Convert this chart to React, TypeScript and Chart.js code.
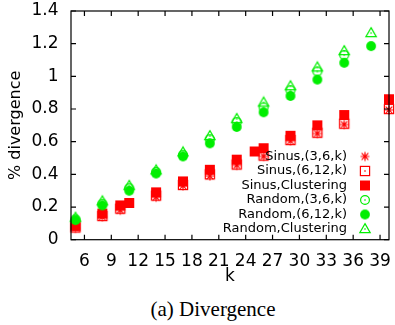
import React, { useEffect, useRef } from 'react';
import { Chart, registerables } from 'chart.js';

Chart.register(...registerables);

// ---- data ----
const sinusK = [5, 8, 10, 14, 17, 20, 23, 26, 29, 32, 35, 40];
const sinus36 = [0.07, 0.14, 0.18, 0.26, 0.33, 0.39, 0.455, 0.51, 0.605, 0.65, 0.705, 0.795];
const sinus612 = [0.075, 0.145, 0.19, 0.27, 0.335, 0.4, 0.46, 0.515, 0.61, 0.655, 0.71, 0.8];
const sinusClusterK = [5, 8, 10, 11, 14, 17, 20, 23, 25, 26, 29, 32, 35, 40];
const sinusCluster = [0.085, 0.16, 0.21, 0.225, 0.29, 0.357, 0.428, 0.49, 0.54, 0.56, 0.636, 0.7, 0.763, 0.86];
const randomK = [5, 8, 11, 14, 17, 20, 23, 26, 29, 32, 35, 38];
const random36K = [5, 8, 11, 14, 17, 20, 23, 26, 29, 32, 35];
const random36 = [0.125, 0.22, 0.315, 0.415, 0.52, 0.615, 0.72, 0.81, 0.915, 1.03, 1.13];
const random612 = [0.12, 0.21, 0.3, 0.405, 0.51, 0.59, 0.69, 0.78, 0.88, 0.98, 1.083, 1.185];
const randomCluster = [0.135, 0.235, 0.33, 0.425, 0.535, 0.635, 0.74, 0.84, 0.94, 1.055, 1.155, 1.265];

const xTicks = [6, 9, 12, 15, 18, 21, 24, 27, 30, 33, 36, 39];
const yTicks = [0, 0.2, 0.4, 0.6, 0.8, 1, 1.2, 1.4];
const yTickLabels = ['0', '0.2', '0.4', '0.6', '0.8', '1', '1.2', '1.4'];
const seriesLabels = [
  'Sinus,(3,6,k)',
  'Sinus,(6,12,k)',
  'Sinus,Clustering',
  'Random,(3,6,k)',
  'Random,(6,12,k)',
  'Random,Clustering',
];
const xTitle = 'k';
const yTitle = '% divergence';
const caption = '(a) Divergence';

const RED = '#ff0000';
const GREEN = '#00ee00';
const FONT = '"DejaVu Sans", Verdana, sans-serif';

type Kind = 'star' | 'openSquare' | 'filledSquare' | 'openCircle' | 'filledCircle' | 'openTriangle';

function makeMarker(kind: Kind, color: string): HTMLCanvasElement {
  const s = 14;
  const c = document.createElement('canvas');
  c.width = s;
  c.height = s;
  const ctx = c.getContext('2d')!;
  ctx.translate(s / 2, s / 2);
  ctx.strokeStyle = color;
  ctx.fillStyle = color;
  ctx.lineWidth = 1.2;
  const dot = () => ctx.fillRect(-0.7, -0.7, 1.4, 1.4);
  switch (kind) {
    case 'star': {
      ctx.beginPath();
      ctx.moveTo(-4.5, 0); ctx.lineTo(4.5, 0);
      ctx.moveTo(0, -4.5); ctx.lineTo(0, 4.5);
      ctx.moveTo(-3.4, -3.4); ctx.lineTo(3.4, 3.4);
      ctx.moveTo(-3.4, 3.4); ctx.lineTo(3.4, -3.4);
      ctx.stroke();
      break;
    }
    case 'openSquare':
      ctx.strokeRect(-4.6, -4.6, 9.2, 9.2);
      dot();
      break;
    case 'filledSquare':
      ctx.fillRect(-5, -5, 10, 10);
      break;
    case 'openCircle':
      ctx.beginPath();
      ctx.arc(0, 0, 4.4, 0, Math.PI * 2);
      ctx.stroke();
      dot();
      break;
    case 'filledCircle':
      ctx.beginPath();
      ctx.arc(0, 0, 4.9, 0, Math.PI * 2);
      ctx.fill();
      break;
    case 'openTriangle':
      ctx.beginPath();
      ctx.moveTo(0, -5.4);
      ctx.lineTo(5.2, 3.7);
      ctx.lineTo(-5.2, 3.7);
      ctx.closePath();
      ctx.stroke();
      dot();
      break;
  }
  return c;
}

function pts(xs: number[], ys: number[]) {
  return xs.map((x, i) => ({ x, y: ys[i] }));
}

export default function App() {
  const ref = useRef<HTMLCanvasElement>(null);

  useEffect(() => {
    if (!ref.current) return;
    const markers = [
      makeMarker('star', RED),
      makeMarker('openSquare', RED),
      makeMarker('filledSquare', RED),
      makeMarker('openCircle', GREEN),
      makeMarker('filledCircle', GREEN),
      makeMarker('openTriangle', GREEN),
    ];
    const seriesData = [
      pts(sinusK, sinus36),
      pts(sinusK, sinus612),
      pts(sinusClusterK, sinusCluster),
      pts(random36K, random36),
      pts(randomK, random612),
      pts(randomK, randomCluster),
    ];

    const framePlugin = {
      id: 'frameTicks',
      afterDatasetsDraw(chart: any) {
        const { ctx, chartArea: a, scales } = chart;
        ctx.save();
        ctx.strokeStyle = '#000';
        ctx.lineWidth = 1.2;
        ctx.strokeRect(a.left, a.top, a.right - a.left, a.bottom - a.top);
        ctx.beginPath();
        xTicks.forEach((v) => {
          const px = scales.x.getPixelForValue(v);
          ctx.moveTo(px, a.bottom);
          ctx.lineTo(px, a.bottom - 5);
          ctx.moveTo(px, a.top);
          ctx.lineTo(px, a.top + 5);
        });
        yTicks.forEach((v) => {
          const py = scales.y.getPixelForValue(v);
          ctx.moveTo(a.left, py);
          ctx.lineTo(a.left + 5, py);
          ctx.moveTo(a.right, py);
          ctx.lineTo(a.right - 5, py);
        });
        ctx.stroke();

        // key
        ctx.font = '13px ' + FONT;
        ctx.textAlign = 'right';
        ctx.textBaseline = 'middle';
        ctx.fillStyle = '#000';
        const n = seriesLabels.length;
        seriesLabels.forEach((label, i) => {
          const y = a.bottom - 10.7 - (n - 1 - i) * 14.5;
          ctx.fillText(label, a.right - 42, y);
          const img = markers[i];
          ctx.drawImage(img, a.right - 24 - img.width / 2, y - img.height / 2);
        });
        ctx.restore();
      },
    };

    const tickFont = { family: FONT, size: 17 };
    const titleFont = { family: FONT, size: 16 };

    const chart = new Chart(ref.current, {
      type: 'scatter',
      data: {
        datasets: seriesLabels.map((label, i) => ({
          label,
          data: seriesData[i],
          pointStyle: markers[i] as any,
          pointRadius: 5,
          showLine: false,
          clip: false as any,
          order: seriesLabels.length - i,
          borderColor: i < 3 ? RED : GREEN,
          backgroundColor: i < 3 ? RED : GREEN,
        })),
      },
      plugins: [framePlugin],
      options: {
        animation: false,
        responsive: false,
        layout: { padding: { left: 0, right: 1, top: 11, bottom: 0 } },
        plugins: {
          legend: { display: false },
          tooltip: { enabled: false },
        },
        scales: {
          x: {
            type: 'linear',
            min: 4.5,
            max: 40,
            afterBuildTicks: (s: any) => {
              s.ticks = xTicks.map((v) => ({ value: v }));
            },
            afterFit: (s: any) => {
              s.height = 50.3;
              s.paddingLeft = 0;
              s.paddingRight = 0;
            },
            ticks: { font: tickFont, color: '#000', padding: 12, maxRotation: 0, autoSkip: false },
            grid: { display: false, drawTicks: false },
            border: { display: false },
            title: {
              display: true,
              text: xTitle,
              font: tickFont,
              color: '#000',
              padding: { top: 0, bottom: 3 },
            },
          },
          y: {
            type: 'linear',
            min: 0,
            max: 1.4,
            afterBuildTicks: (s: any) => {
              s.ticks = yTicks.map((v) => ({ value: v }));
            },
            afterFit: (s: any) => {
              s.width = 71;
              s.paddingTop = 0;
              s.paddingBottom = 0;
            },
            ticks: {
              font: tickFont,
              color: '#000',
              padding: 12.5,
              autoSkip: false,
              callback: (_v: any, i: number) => yTickLabels[i],
            },
            grid: { display: false, drawTicks: false },
            border: { display: false },
            title: {
              display: true,
              text: yTitle,
              font: titleFont,
              color: '#000',
              padding: { top: 6, bottom: 0 },
            },
          },
        },
      },
    });
    return () => chart.destroy();
  }, []);

  return (
    <div style={{ position: 'absolute', left: 0, top: 0, width: 395, height: 325, background: '#fff', overflow: 'hidden' }}>
      <canvas ref={ref} width={395} height={290} style={{ display: 'block', width: 395, height: 290 }} />
      <div
        style={{
          position: 'absolute',
          left: 113,
          width: 200,
          top: 298,
          textAlign: 'center',
          fontFamily: '"Liberation Serif", "Times New Roman", serif',
          fontSize: 21,
          lineHeight: '23px',
          color: '#000',
          whiteSpace: 'nowrap',
        }}
      >
        {caption}
      </div>
    </div>
  );
}
